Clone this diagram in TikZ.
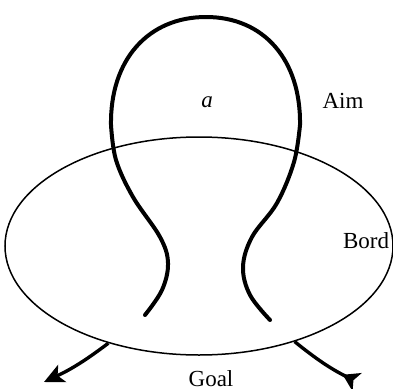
\documentclass[tikz,border=0pt]{standalone}
\usepackage{fontspec}
\setmainfont{Liberation Serif}
\usetikzlibrary{shapes.geometric,arrows.meta}
\begin{document}
\begin{tikzpicture}[x=1pt,y=-1pt,
  lbl/.style={font=\fontsize{23}{27}\selectfont, inner sep=0pt},
  strand/.style={line width=4pt, line cap=round, line join=round},
  goalarrow/.style={line width=3.4pt}]
\useasboundingbox (0,0) rectangle (393,388);
\node[ellipse, draw, line width=1.5pt, minimum width=388pt, minimum height=218pt, inner sep=0pt] (bord) at (199,246) {};
\draw[strand] plot[smooth, tension=0.6] coordinates {(145,315) (162,290) (168,263) (160,237) (133,197) (116,160) (111,125)}
  .. controls (110,60) and (148,17) .. (206,17)
  .. controls (264,17) and (301,60) .. (300,125)
  -- plot[smooth, tension=0.6] coordinates {(300,125) (294,162) (277,203) (252,237) (243,267) (250,295) (270,320)};
\coordinate (lend) at (44,382);
\coordinate (rend) at (357,382);
\draw[goalarrow, -{Stealth[length=20pt,width=19pt,inset=5pt]}] (bord.227) to[bend left=6] (lend);
\draw[goalarrow, -{Stealth[reversed,length=16pt,width=20pt,inset=4pt]}] (bord.315) to[bend right=6] (rend);
\node[lbl] (a) at (207,102) {\itshape a};
\node[lbl] (aim) at (343,101) {Aim};
\node[lbl] (bordl) at (366,241) {Bord};
\node[lbl] (goal) at (211,379) {Goal};
\end{tikzpicture}
\end{document}
